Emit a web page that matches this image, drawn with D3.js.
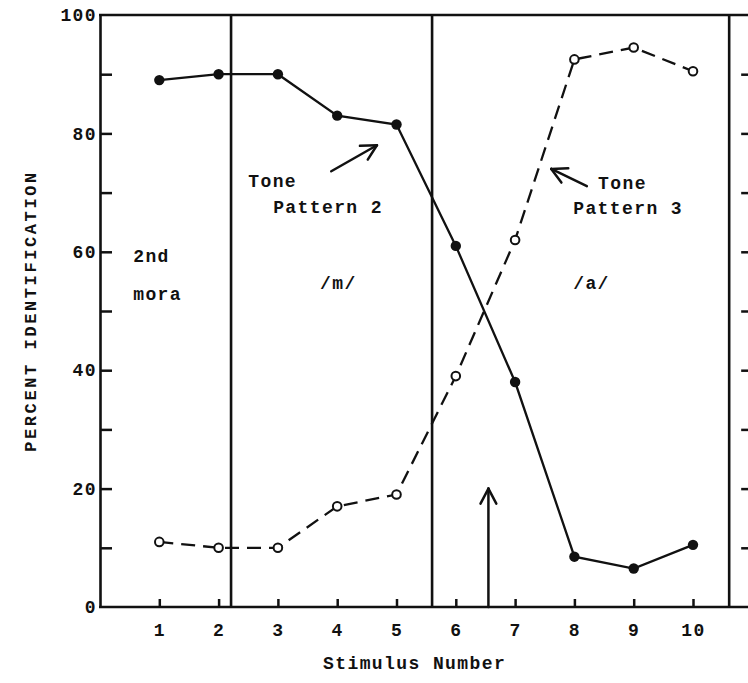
<!DOCTYPE html>
<html>
<head>
<meta charset="utf-8">
<script src="https://cdn.jsdelivr.net/npm/d3@7"></script>
<style>
  body { margin: 0; background: #fff; }
  text { font-family: "Liberation Mono", "DejaVu Sans Mono", monospace; font-weight: bold; fill: #111; }
</style>
</head>
<body>
<svg id="chart" width="748" height="683"></svg>
<script>
// Identification of the 2nd mora along the stimulus continuum
const stimuli = [1, 2, 3, 4, 5, 6, 7, 8, 9, 10];
const tonePattern2 = [89, 90, 90, 83, 81.5, 61, 38, 8.5, 6.5, 10.5];   // filled dots, solid line
const tonePattern3 = [11, 10, 10, 17, 19, 39, 62, 92.5, 94.5, 90.5];    // open dots, dashed line

const yTickValues = [0, 10, 20, 30, 40, 50, 60, 70, 80, 90, 100];
const yLabelValues = [0, 20, 40, 60, 80, 100];
const regionBounds = [2.21, 5.6];
const frameRight = 10.61;
const crossover = 6.55;

// Text annotations placed in data units (stimulus, percent)
const notes = [
  { text: "2nd", x: 0.56, y: 58.3 },
  { text: "mora", x: 0.56, y: 51.9 },
  { text: "/m/", x: 3.71, y: 53.7 },
  { text: "/a/", x: 7.98, y: 53.7 },
  { text: "Tone", x: 2.50, y: 70.9 },
  { text: "Pattern 2", x: 2.92, y: 66.5 },
  { text: "Tone", x: 8.40, y: 70.6 },
  { text: "Pattern 3", x: 7.98, y: 66.4 }
];
// Pointer arrows: tail -> tip, in data units
const pointers = [
  { x1: 3.90, y1: 73.6, x2: 4.67, y2: 78.0 },
  { x1: 8.21, y1: 71.1, x2: 7.61, y2: 74.0 },
  { x1: crossover, y1: 0, x2: crossover, y2: 20 }
];

const svg = d3.select("#chart");
const ink = "#111";

const x = d3.scaleLinear().domain([0, 10]).range([100, 693]);
const y = d3.scaleLinear().domain([0, 100]).range([607, 15]);

const fontCss = "font-size:18px;letter-spacing:1.4px";

// Frame
const frame = svg.append("g").attr("stroke", ink).attr("stroke-width", 2.6).attr("fill", "none");
frame.append("line").attr("x1", x(0) - 1).attr("x2", 748).attr("y1", y(100)).attr("y2", y(100));
frame.append("line").attr("x1", x(0) - 1).attr("x2", 748).attr("y1", y(0)).attr("y2", y(0));
frame.append("line").attr("x1", x(frameRight)).attr("x2", x(frameRight)).attr("y1", y(100)).attr("y2", y(0));
regionBounds.forEach(b => {
  frame.append("line").attr("x1", x(b)).attr("x2", x(b)).attr("y1", y(100)).attr("y2", y(0));
});

// Left axis
const yAxis = d3.axisLeft(y)
  .tickValues(yTickValues)
  .tickSize(-12)
  .tickSizeOuter(0)
  .tickPadding(3)
  .tickFormat(d => yLabelValues.includes(d) ? d : "");
const gy = svg.append("g").attr("transform", `translate(${x(0)},0)`).call(yAxis);
gy.select(".domain").attr("stroke", ink).attr("stroke-width", 2.6);
gy.selectAll(".tick line").attr("stroke", ink).attr("stroke-width", 2.5)
  .filter(d => d === 0 || d === 100).remove();
gy.selectAll(".tick text").attr("style", fontCss).attr("fill", ink);

// Right-hand tick marks beyond the frame
const yAxisRight = d3.axisRight(y)
  .tickValues(yTickValues.filter(v => v > 0 && v < 100))
  .tickSize(7)
  .tickFormat("");
const gr = svg.append("g").attr("transform", `translate(${x(frameRight) + 12},0)`).call(yAxisRight);
gr.select(".domain").remove();
gr.selectAll(".tick line").attr("stroke", ink).attr("stroke-width", 2.5);

// Bottom axis
const xAxis = d3.axisBottom(x)
  .tickValues(stimuli)
  .tickSize(-8)
  .tickSizeOuter(0)
  .tickPadding(16);
const gx = svg.append("g").attr("transform", `translate(0,${y(0)})`).call(xAxis);
gx.select(".domain").remove();
gx.selectAll(".tick line").attr("stroke", ink).attr("stroke-width", 2.5);
gx.selectAll(".tick text").attr("style", fontCss).attr("fill", ink);

// Axis titles
svg.append("text")
  .attr("x", (x(0) + x(frameRight)) / 2)
  .attr("y", y(0) + 62)
  .attr("text-anchor", "middle")
  .attr("style", fontCss)
  .text("Stimulus Number");
svg.append("text")
  .attr("transform", `translate(36,${(y(0) + y(100)) / 2}) rotate(-90)`)
  .attr("text-anchor", "middle")
  .attr("style", "font-size:17px;letter-spacing:2.6px")
  .text("PERCENT IDENTIFICATION");

// Series lines
const line = d3.line().x((d, i) => x(stimuli[i])).y(d => y(d));
svg.append("path").datum(tonePattern2)
  .attr("d", line).attr("fill", "none").attr("stroke", ink).attr("stroke-width", 2.3);
svg.append("path").datum(tonePattern3)
  .attr("d", line).attr("fill", "none").attr("stroke", ink).attr("stroke-width", 2.3)
  .attr("stroke-dasharray", "14,8");

// Markers
svg.append("g").selectAll("circle").data(tonePattern2).join("circle")
  .attr("cx", (d, i) => x(stimuli[i])).attr("cy", d => y(d))
  .attr("r", 5.2).attr("fill", ink);
svg.append("g").selectAll("circle").data(tonePattern3).join("circle")
  .attr("cx", (d, i) => x(stimuli[i])).attr("cy", d => y(d))
  .attr("r", 4.3).attr("fill", "#fff").attr("stroke", ink).attr("stroke-width", 2);

// Annotations
svg.append("g").selectAll("text").data(notes).join("text")
  .attr("x", d => x(d.x)).attr("y", d => y(d.y))
  .attr("style", fontCss)
  .text(d => d.text);

// Pointer arrows
const ag = svg.append("g").attr("stroke", ink).attr("stroke-width", 2.5).attr("fill", "none")
  .attr("stroke-linecap", "round");
pointers.forEach(p => {
  const X1 = x(p.x1), Y1 = y(p.y1), X2 = x(p.x2), Y2 = y(p.y2);
  ag.append("line").attr("x1", X1).attr("y1", Y1).attr("x2", X2).attr("y2", Y2);
  const ang = Math.atan2(Y2 - Y1, X2 - X1);
  const len = 17, spread = Math.PI / 6.5;
  [-spread, spread].forEach(s => {
    ag.append("line")
      .attr("x1", X2).attr("y1", Y2)
      .attr("x2", X2 - len * Math.cos(ang + s))
      .attr("y2", Y2 - len * Math.sin(ang + s));
  });
});
</script>
</body>
</html>
